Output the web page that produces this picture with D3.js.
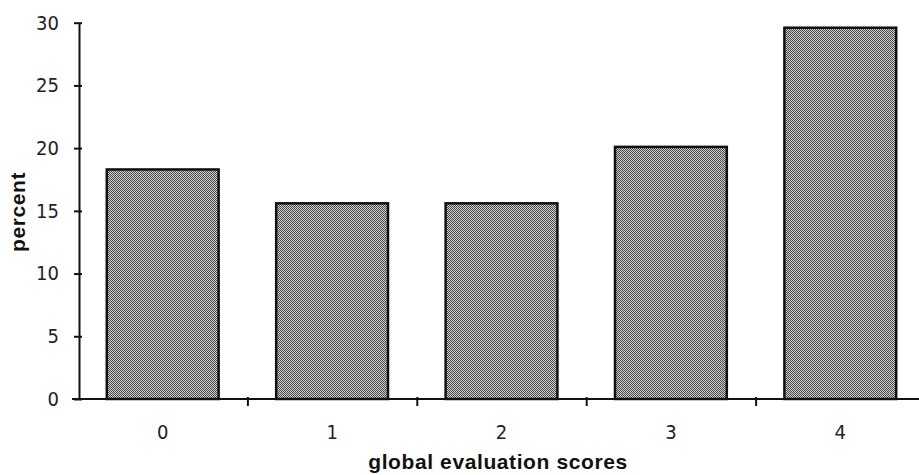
<!DOCTYPE html>
<html>
<head>
<meta charset="utf-8">
<script src="https://cdn.jsdelivr.net/npm/d3@7"></script>
<style>
  body { margin: 0; background: #fff; }
  .title { font-family: "Liberation Sans", Arial, sans-serif; font-weight: bold; font-size: 21px; letter-spacing: 0.6px; fill: #111; }
</style>
</head>
<body>
<svg id="chart"></svg>
<script>
const categories = ["0", "1", "2", "3", "4"];
const values = [18.3, 15.6, 15.6, 20.1, 29.6];
const yTicks = [0, 5, 10, 15, 20, 25, 30];

const width = 919, height = 475;
const mLeft = 79, mRight = 925, mTop = 22.7, mBottom = 399;
const tickFont = '"DejaVu Sans Condensed", "Liberation Sans Narrow", sans-serif';

const svg = d3.select("#chart")
    .attr("width", width)
    .attr("height", height);

// dithered grey fill like the old printout
const pat = svg.append("defs").append("pattern")
    .attr("id", "dither")
    .attr("patternUnits", "userSpaceOnUse")
    .attr("width", 2)
    .attr("height", 2);
pat.append("rect").attr("width", 2).attr("height", 2).attr("fill", "#cfcfcf");
pat.append("rect").attr("width", 1).attr("height", 1).attr("fill", "#4a4a4a");
pat.append("rect").attr("x", 1).attr("y", 1).attr("width", 1).attr("height", 1).attr("fill", "#4a4a4a");

var x = d3.scaleBand()
    .domain(categories)
    .range([mLeft - 1, mRight])
    .paddingInner(0.34)
    .paddingOuter(0.17);

var y = d3.scaleLinear()
    .domain([0, 30])
    .range([mBottom, mTop]);

// boundaries between categories, for the small ticks on the x axis
var xEdge = d3.scaleLinear()
    .domain([0, categories.length])
    .range([mLeft - 1, mRight]);

svg.selectAll("rect.bar")
    .data(values)
    .enter()
    .append("rect")
    .attr("class", "bar")
    .attr("x", (d, i) => x(categories[i]))
    .attr("y", d => y(d))
    .attr("width", x.bandwidth())
    .attr("height", d => y(0) - y(d))
    .attr("fill", "url(#dither)")
    .attr("stroke", "#111")
    .attr("stroke-width", 2.5);

// y axis
var yAxis = svg.append("g")
    .attr("transform", `translate(${mLeft}, 0)`)
    .attr("font-family", tickFont)
    .attr("font-size", 20)
    .call(d3.axisLeft(y).tickValues(yTicks).tickSize(5).tickSizeOuter(0).tickPadding(15));
yAxis.attr("font-family", tickFont).attr("font-size", 20);
yAxis.select(".domain").attr("stroke", "#111").attr("stroke-width", 2);
yAxis.selectAll(".tick line").attr("x1", 3).attr("stroke", "#111").attr("stroke-width", 2);
yAxis.selectAll(".tick text").attr("fill", "#222");

// x axis labels
var xAxis = svg.append("g")
    .attr("transform", `translate(0, ${mBottom})`)
    .call(d3.axisBottom(x).tickSize(0).tickPadding(26));
xAxis.attr("font-family", tickFont).attr("font-size", 20);
xAxis.select(".domain").remove();
xAxis.selectAll(".tick text").attr("fill", "#222");

// x axis line and in-between ticks
var edgeAxis = svg.append("g")
    .attr("transform", `translate(0, ${mBottom})`)
    .call(d3.axisBottom(xEdge).tickValues([1, 2, 3, 4]).tickFormat("").tickSize(7).tickSizeOuter(0));
edgeAxis.select(".domain")
    .attr("d", `M${mLeft - 7},0H${width}`)
    .attr("stroke", "#111")
    .attr("stroke-width", 2);
edgeAxis.selectAll(".tick line").attr("y1", -2).attr("stroke", "#111").attr("stroke-width", 2);

svg.append("text")
    .attr("class", "title")
    .attr("text-anchor", "middle")
    .attr("transform", "translate(25, 212) rotate(-90)")
    .text("percent");

svg.append("text")
    .attr("class", "title")
    .attr("text-anchor", "middle")
    .attr("x", 498)
    .attr("y", 469)
    .text("global evaluation scores");
</script>
</body>
</html>
